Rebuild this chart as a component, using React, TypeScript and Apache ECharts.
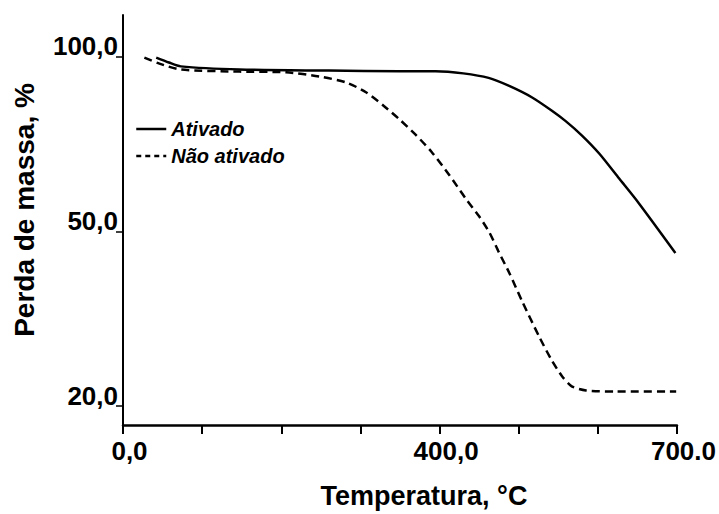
import React, { useEffect, useRef } from "react";
import * as echarts from "echarts";

// Temperatures (°C) and mass (%)
const ativadoT = [42, 58, 73, 147, 260, 349, 395, 430, 462, 488, 517, 542, 559, 580, 602, 627, 652, 698];
const ativadoM = [99.7, 98.3, 97.2, 96.3, 96.0, 95.8, 95.8, 95.2, 93.9, 91.6, 88.3, 84.5, 81.6, 77.4, 72.2, 65.1, 58.0, 46.3];

const naoT = [27, 46, 73, 147, 206, 248, 282, 307, 330, 349, 370, 390, 412, 433, 450, 463, 475, 488, 504, 526, 542, 555, 567, 585, 623, 699];
const naoM = [99.7, 98.0, 96.3, 95.7, 95.5, 94.3, 92.6, 89.8, 85.8, 82.1, 77.6, 72.7, 66.2, 59.4, 54.3, 49.8, 46.4, 42.9, 38.1, 31.9, 27.8, 25.1, 23.4, 22.7, 22.5, 22.5];

const yTickPct = [20, 50, 100];
const xLabelMap: Record<number, string> = { 0: "0,0", 400: "400,0", 700: "700.0" };

// The reference's mass axis is piecewise: 20→50 spans the same height as 50→100
const toAxis = (v: number) => (v >= 50 ? v : ((v - 20) * 50) / 30);
const fromAxis = (u: number) => (u >= 50 ? u : 20 + (u * 30) / 50);

const FONT = "'Liberation Sans', Arial, sans-serif";

export default function App() {
  const ref = useRef<HTMLDivElement>(null);
  useEffect(() => {
    const chart = echarts.init(ref.current!, null, { renderer: "svg" });
    chart.setOption({
      animation: false,
      backgroundColor: "#ffffff",
      textStyle: { fontFamily: FONT },
      grid: { left: 123, right: 41, top: 15, bottom: 86, containLabel: false },
      legend: {
        orient: "vertical",
        left: 130,
        top: 114,
        itemWidth: 30,
        itemHeight: 14,
        itemGap: 7,
        textStyle: { fontFamily: FONT, fontSize: 20, fontWeight: "bold", fontStyle: "italic", color: "#000" },
        data: [
          { name: "Ativado", itemStyle: { opacity: 0 }, lineStyle: { type: "solid", width: 2.5, color: "#000" } },
          { name: "Não ativado", itemStyle: { opacity: 0 }, lineStyle: { type: [5, 4], width: 2.5, color: "#000" } },
        ],
      },
      xAxis: {
        type: "value",
        min: 0,
        max: 700,
        interval: 100,
        name: "Temperatura, °C",
        nameLocation: "middle",
        nameGap: 57,
        nameTextStyle: { fontFamily: FONT, fontSize: 27, fontWeight: "bold", color: "#000", padding: [0, 0, 0, 48] },
        axisLine: { onZero: false, lineStyle: { color: "#000", width: 2.5 } },
        axisTick: { show: true, inside: false, length: 9, lineStyle: { color: "#000", width: 2 } },
        axisLabel: {
          show: true,
          margin: 13,
          showMinLabel: true,
          showMaxLabel: true,
          fontFamily: FONT,
          fontSize: 26,
          fontWeight: "bold",
          color: "#000",
          padding: [0, 0, 0, 13],
          formatter: (v: number) => xLabelMap[v] ?? "",
        },
        splitLine: { show: false },
      },
      yAxis: {
        type: "value",
        min: -5.4,
        max: 111.9,
        name: "Perda de massa, %",
        nameLocation: "middle",
        nameRotate: 90,
        nameGap: 85,
        nameTextStyle: { fontFamily: FONT, fontSize: 28, fontWeight: "bold", color: "#000", padding: [0, 0, 0, 20] },
        axisLine: { show: true, onZero: false, lineStyle: { color: "#000", width: 2 } },
        axisTick: {
          show: true,
          inside: false,
          length: 7,
          customValues: yTickPct.map(toAxis),
          lineStyle: { color: "#000", width: 1.5 },
        },
        axisLabel: {
          show: true,
          margin: 5,
          customValues: yTickPct.map(toAxis),
          fontFamily: FONT,
          fontSize: 26,
          fontWeight: "bold",
          color: "#000",
          verticalAlign: "bottom",
          lineHeight: 21,
          formatter: (u: number) => fromAxis(u).toFixed(1).replace(".", ","),
        },
        splitLine: { show: false },
      },
      series: [
        {
          name: "Ativado",
          type: "line",
          symbol: "none",
          smooth: 0.25,
          lineStyle: { color: "#000", width: 2.5, type: "solid" },
          itemStyle: { color: "#000" },
          data: ativadoT.map((t, i) => [t, toAxis(ativadoM[i])]),
        },
        {
          name: "Não ativado",
          type: "line",
          symbol: "none",
          smooth: 0.25,
          lineStyle: { color: "#000", width: 2.5, type: [8, 5] },
          itemStyle: { color: "#000" },
          data: naoT.map((t, i) => [t, toAxis(naoM[i])]),
        },
      ],
    });
    return () => chart.dispose();
  }, []);
  return (
    <div
      ref={ref}
      style={{ width: 719, height: 514, position: "absolute", left: 0, top: 0, background: "#fff" }}
    />
  );
}
